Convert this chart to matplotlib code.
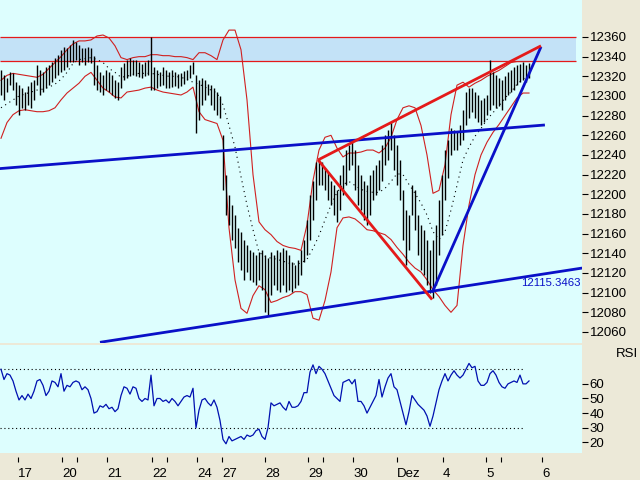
import numpy as np
import matplotlib
matplotlib.use('Agg')
import matplotlib.pyplot as plt

plt.rcParams['font.family'] = ['Liberation Sans', 'DejaVu Sans']

# ---------------- data ----------------
bar_high = [12326, 12321, 12318, 12324, 12323, 12314, 12311, 12308, 12304, 12310,
            12314, 12316, 12332, 12326, 12324, 12329, 12331, 12335, 12339, 12342,
            12347, 12350, 12349, 12352, 12357, 12355, 12352, 12349, 12349, 12350,
            12349, 12341, 12332, 12324, 12321, 12326, 12324, 12321, 12316, 12314,
            12329, 12334, 12337, 12339, 12337, 12337, 12335, 12333, 12335, 12337,
            12360, 12329, 12326, 12324, 12329, 12326, 12324, 12326, 12324, 12322,
            12323, 12325, 12326, 12331, 12335, 12321, 12316, 12318, 12316, 12312,
            12311, 12308, 12304, 12300, 12260, 12220, 12199, 12189, 12179, 12166,
            12162, 12154, 12148, 12143, 12141, 12138, 12141, 12143, 12138, 12135,
            12141, 12138, 12143, 12141, 12145, 12143, 12138, 12131, 12128, 12133,
            12143, 12154, 12174, 12199, 12214, 12233, 12237, 12233, 12227, 12223,
            12214, 12209, 12204, 12220, 12230, 12245, 12250, 12255, 12245, 12230,
            12220, 12214, 12209, 12220, 12225, 12230, 12235, 12250, 12260, 12265,
            12274, 12260, 12250, 12235, 12204, 12184, 12179, 12209, 12204, 12179,
            12169, 12164, 12154, 12143, 12154, 12169, 12194, 12220, 12245, 12255,
            12267, 12265, 12263, 12270, 12286, 12304, 12308, 12308, 12304, 12301,
            12296, 12298, 12301, 12337, 12324, 12321, 12318, 12316, 12320, 12324,
            12326, 12329, 12331, 12333, 12335, 12332, 12334]
bar_low = [12301, 12296, 12304, 12311, 12306, 12291, 12281, 12288, 12286, 12291,
           12288, 12296, 12311, 12301, 12304, 12308, 12311, 12314, 12318, 12321,
           12324, 12326, 12329, 12335, 12335, 12337, 12332, 12335, 12332, 12335,
           12334, 12311, 12306, 12304, 12301, 12306, 12304, 12301, 12298, 12296,
           12308, 12316, 12318, 12320, 12321, 12320, 12319, 12318, 12320, 12321,
           12306, 12306, 12308, 12310, 12311, 12308, 12308, 12309, 12310, 12308,
           12310, 12312, 12316, 12318, 12322, 12262, 12276, 12291, 12296, 12301,
           12291, 12286, 12281, 12278, 12204, 12179, 12169, 12154, 12145, 12131,
           12123, 12113, 12121, 12113, 12111, 12108, 12113, 12103, 12080, 12077,
           12098, 12108, 12103, 12101, 12108, 12101, 12103, 12101, 12105, 12108,
           12118, 12131, 12138, 12154, 12174, 12194, 12209, 12209, 12204, 12194,
           12189, 12179, 12172, 12184, 12199, 12209, 12225, 12230, 12204, 12189,
           12184, 12174, 12169, 12179, 12194, 12199, 12204, 12214, 12230, 12235,
           12245, 12225, 12209, 12194, 12154, 12128, 12143, 12179, 12164, 12138,
           12123, 12118, 12108, 12100, 12095, 12108, 12138, 12159, 12194, 12217,
           12240, 12245, 12245, 12250, 12255, 12270, 12278, 12284, 12278, 12274,
           12270, 12274, 12281, 12286, 12291, 12288, 12290, 12286, 12296, 12301,
           12304, 12306, 12311, 12314, 12316, 12314, 12318]

band_upper = [12316, 12321, 12323, 12322, 12321, 12320, 12319, 12322, 12328, 12334,
              12340, 12347, 12353, 12356, 12356, 12357, 12361, 12362, 12359, 12351,
              12339, 12337, 12339, 12340, 12340, 12342, 12342, 12341, 12341, 12340,
              12340, 12339, 12337, 12344, 12344, 12341, 12337, 12357, 12367, 12367,
              12347, 12296, 12220, 12172, 12164, 12159, 12152, 12148, 12146, 12145,
              12143, 12169, 12214, 12245, 12258, 12260, 12247, 12238, 12242, 12242,
              12243, 12245, 12245, 12242, 12247, 12258, 12276, 12288, 12290, 12288,
              12270, 12240, 12201, 12204, 12230, 12281, 12311, 12314, 12309, 12313,
              12316, 12320, 12323, 12326, 12330, 12334, 12335, 12335, 12335]
band_lower = [12257, 12273, 12281, 12285, 12286, 12285, 12284, 12284, 12285, 12288,
              12296, 12303, 12308, 12313, 12320, 12324, 12316, 12308, 12304, 12299,
              12298, 12304, 12305, 12306, 12308, 12309, 12306, 12304, 12303, 12302,
              12301, 12304, 12309, 12284, 12276, 12274, 12272, 12255, 12166, 12113,
              12084, 12079, 12097, 12107, 12103, 12090, 12092, 12095, 12097, 12101,
              12101, 12098, 12074, 12072, 12092, 12121, 12166, 12176, 12177, 12175,
              12170, 12164, 12163, 12161, 12159, 12154, 12146, 12139, 12131, 12125,
              12121, 12113, 12103, 12096, 12087, 12080, 12087, 12148, 12189, 12220,
              12240, 12253, 12263, 12271, 12280, 12289, 12298, 12303, 12303]
band_mid = [12288, 12292, 12296, 12300, 12302, 12304, 12306, 12307, 12309, 12312,
            12317, 12324, 12333, 12337, 12338, 12339, 12337, 12334, 12328, 12324,
            12319, 12320, 12322, 12323, 12323, 12323, 12322, 12321, 12320, 12320,
            12319, 12317, 12314, 12312, 12309, 12306, 12303, 12291, 12270, 12248,
            12218, 12189, 12164, 12141, 12137, 12135, 12134, 12132, 12130, 12129,
            12130, 12134, 12145, 12158, 12174, 12189, 12202, 12210, 12213, 12209,
            12205, 12203, 12202, 12202, 12206, 12213, 12221, 12220, 12210, 12201,
            12191, 12179, 12162, 12154, 12162, 12184, 12209, 12235, 12248, 12259,
            12267, 12276, 12283, 12290, 12298, 12304, 12312, 12317, 12321]
band_step = 2  # one band value every 2 bars

rsi = [70, 63, 67, 66, 62, 55, 49, 52, 49, 53, 50, 55, 62, 63, 59, 52, 55, 62, 61, 58,
       67, 55, 59, 58, 61, 62, 61, 56, 58, 56, 50, 40, 41, 45, 44, 46, 43, 44, 41, 43,
       52, 58, 57, 53, 58, 57, 50, 48, 50, 49, 66, 45, 50, 50, 48, 49, 47, 50, 48, 45,
       48, 51, 52, 51, 57, 30, 42, 49, 50, 47, 45, 49, 44, 35, 22, 19, 24, 21, 22, 23,
       24, 22, 25, 24, 25, 28, 29, 24, 22, 30, 47, 45, 46, 47, 44, 42, 48, 44, 44, 45,
       48, 54, 54, 68, 73, 67, 72, 70, 67, 62, 57, 52, 50, 48, 61, 62, 63, 60, 63, 48,
       48, 45, 40, 44, 48, 52, 63, 51, 58, 64, 67, 58, 56, 48, 40, 32, 41, 52, 49, 46,
       44, 42, 38, 31, 38, 47, 56, 62, 67, 62, 66, 69, 66, 64, 66, 70, 74, 71, 72, 62,
       59, 59, 61, 67, 69, 66, 61, 58, 57, 60, 61, 62, 61, 66, 60, 60, 62]

price_ticks = list(range(12060, 12361, 20))
rsi_ticks = [20, 30, 40, 50, 60]
rsi_levels = [70, 30]

day_ticks = [5.67, 20.33, 35.33, 50.33, 65.33, 73.67, 88.0, 102.33, 117.33,
             132.0, 147.33, 161.67, 180.33]
day_labels = ['17', '20', '21', '22', '24', '27', '28', '29', '30', 'Dez', '4', '5', '6']
extra_ticks = [25.33, 55.33, 107.33, 166.67]

resist_lo, resist_hi = 12336, 12360
resist_x = [-0.4, 191.7]
upper_channel = ([-1.0, 181.3], [12226, 12270.5])
lower_channel = ([33.0, 193.7], [12049.5, 12125])
steep_line = ([143.7, 180.0], [12100, 12350])
wedge_upper = ([105.7, 180.0], [12235, 12351])
wedge_lower = ([105.7, 143.7], [12235, 12093])
channel_label = '12115.3463'
channel_label_pos = (193.3, 12110)

# ---------------- styling ----------------
BEIGE = '#ece9d8'
PANEL = '#ddfefe'
BAND = '#c3e2f7'
RED = '#e41a1a'
BBRED = '#d02020'
BLUE = '#0a10c8'

W, H = 640, 480
fig = plt.figure(figsize=(6.4, 4.8), dpi=100, facecolor=BEIGE)

def frac(x0, y0, x1, y1):
    return [x0 / W, 1 - y1 / H, (x1 - x0) / W, (y1 - y0) / H]

ax = fig.add_axes(frac(0, 0, 582, 343), facecolor=PANEL)
ax2 = fig.add_axes(frac(0, 345, 582, 453.3), facecolor=PANEL, sharex=ax)
axt = fig.add_axes(frac(0, 456.5, 582, 457), sharex=ax)
axt.patch.set_alpha(0)

n = len(bar_high)
xb = np.arange(n)
xband = np.arange(len(band_upper)) * band_step

# resistance zone
ax.fill_between(resist_x, resist_lo, resist_hi, color=BAND, zorder=1, lw=0)
ax.hlines([resist_lo, resist_hi], resist_x[0], resist_x[1], color=RED, lw=0.9, zorder=2)

# bollinger bands
ax.plot(xband, band_upper, color=BBRED, lw=0.8, zorder=3)
ax.plot(xband, band_lower, color=BBRED, lw=0.8, zorder=3)
ax.plot(xband, band_mid, color='black', lw=0.8, ls=(0, (1, 3.5)), zorder=3)

# bars
ax.vlines(xb, bar_low, bar_high, color='black', lw=1.0, zorder=4)

# trend lines
ax.plot(*upper_channel, color=BLUE, lw=2.0, zorder=5, solid_capstyle='butt')
ax.plot(*lower_channel, color=BLUE, lw=2.0, zorder=5, solid_capstyle='butt')
ax.plot(*steep_line, color=BLUE, lw=2.0, zorder=5, solid_capstyle='butt')
ax.plot(*wedge_upper, color=RED, lw=2.0, zorder=6, solid_capstyle='butt')
ax.plot(*wedge_lower, color=RED, lw=2.0, zorder=6, solid_capstyle='butt')
ax.text(channel_label_pos[0], channel_label_pos[1], channel_label, color=BLUE,
        fontsize=8.2, ha='right', va='center', zorder=7)

ax.set_xlim(-1 / 3, 581 / 3)
ax.set_ylim(12048.8, 12397.6)
ax.set_yticks(price_ticks)
ax.yaxis.tick_right()
ax.tick_params(axis='y', direction='out', length=4, width=0.8, pad=1.5,
               labelsize=9.5, colors='black')
ax.tick_params(axis='x', bottom=False, labelbottom=False)
for s in ax.spines.values():
    s.set_visible(False)

# RSI panel
ax2.plot(xb, rsi, color='#0010b0', lw=0.9, zorder=3)
ax2.hlines(rsi_levels, -1 / 3, 174.7, color='black', lw=0.8, linestyles=[(0, (1, 2.5))], zorder=2)
ax2.set_ylim(12.5, 86.6)
ax2.set_yticks(rsi_ticks)
ax2.yaxis.tick_right()
ax2.tick_params(axis='y', direction='out', length=4, width=0.8, pad=1.5,
                labelsize=9.5, colors='black')
ax2.tick_params(axis='x', bottom=False, labelbottom=False)
for s in ax2.spines.values():
    s.set_visible(False)
fig.text(627 / W, 1 - 354 / H, 'RSI', ha='center', va='center', fontsize=9.5)

# date axis strip
axt.set_yticks([])
axt.set_xticks(day_ticks + extra_ticks)
axt.set_xticklabels(day_labels + [''] * len(extra_ticks), ha='left')
axt.tick_params(axis='x', direction='out', length=3.5, width=0.8, pad=4.5, labelsize=9.5)
for s in axt.spines.values():
    s.set_visible(False)

fig.savefig('out.png', dpi=100, facecolor=BEIGE)
